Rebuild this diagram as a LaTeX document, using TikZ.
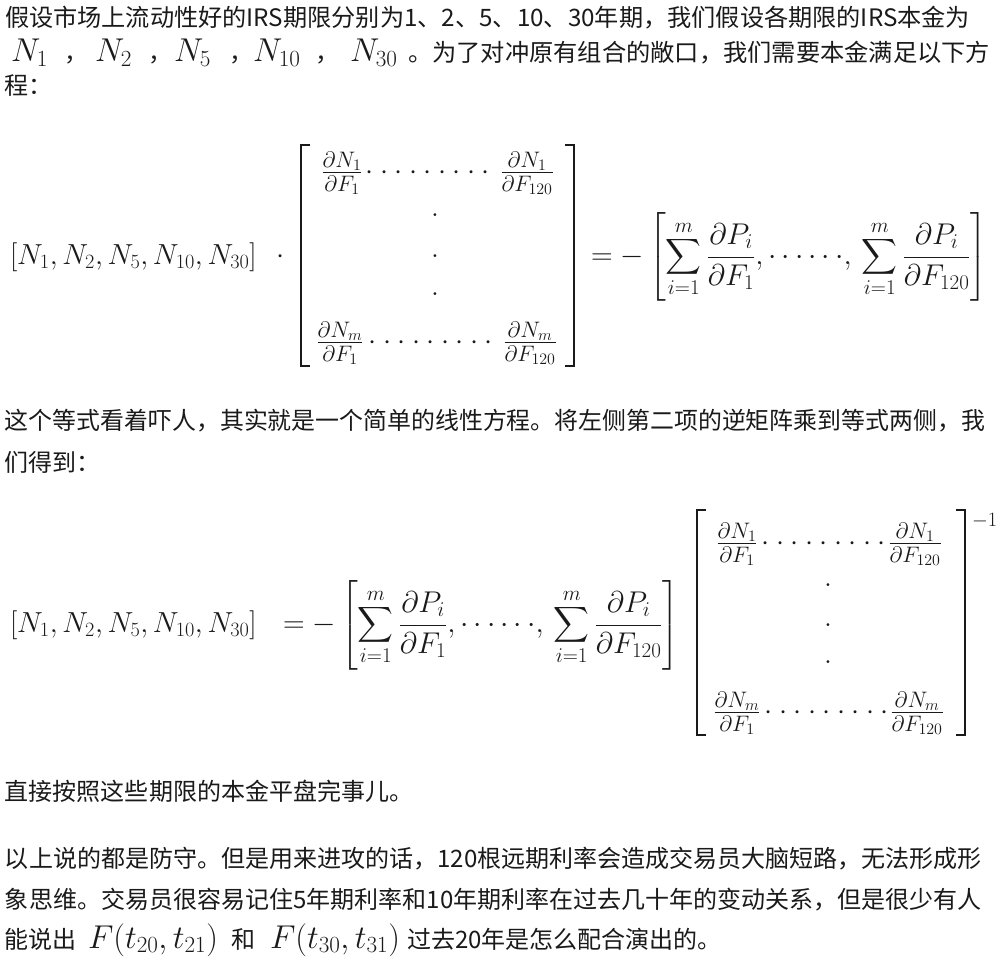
\RequirePackage{fix-cm}
\documentclass[tikz,border=0pt]{standalone}
\usepackage{amsmath}
\usepackage{fontspec}
\usepackage{graphicx}
\newfontfamily\cjk{Noto Sans CJK SC}
\definecolor{ink}{HTML}{1A1A1A}
\newcommand\mfs{\fontsize{29}{35}\selectfont}
\newcommand\ifs{\fontsize{33}{40}\selectfont}
\newcommand\rfs{\fontsize{30}{36}\selectfont}
\newcommand\efs{\fontsize{32}{38}\selectfont}
\newcommand\fitw[2]{\resizebox{#1}{\height}{#2}}
\newcommand\dd{\mathord{\cdotp}\mkern4mu}
\newcommand\ninedots{\dd\dd\dd\dd\dd\dd\dd\dd\mathord{\cdotp}}
\newcommand\sumrow{\displaystyle = -\left[\sum_{i=1}^m\frac{\partial P_i}{\partial F_1},\cdots\cdots\mkern-3mu,\mkern3mu\sum_{i=1}^m\frac{\partial P_i}{\partial F_{120}}\right]}
\begin{document}
\begin{tikzpicture}[x=1pt,y=-1pt,
  every node/.style={inner sep=0pt,outer sep=0pt,text=ink},
  txt/.style={anchor=base west,font=\cjk\fontsize{24}{30}\selectfont},
  mth/.style={font=\mfs},
  imth/.style={font=\ifs,anchor=base west},
  rmth/.style={font=\rfs,anchor=base west},
  ent/.style={font=\efs,anchor=base},
  brk/.style={draw=ink,line width=2.6pt}]
\fill[white] (0,0) rectangle (1000,965);
\useasboundingbox (0,0) rectangle (1000,965);
% paragraph 1
\node[txt] (l1) at (5,27) {\fitw{965pt}{假设市场上流动性好的IRS期限分别为1、2、5、10、30年期，我们假设各期限的IRS本金为}};
\node[imth] (n1) at (11,62) {$N_1$};
\node[txt] (c1) at (64,62) {，};
\node[imth] (n2) at (95,62) {$N_2$};
\node[txt] (c2) at (148,62) {，};
\node[imth] (n5) at (174,62) {$N_5$};
\node[txt] (c3) at (229,62) {，};
\node[imth] (n10) at (253,62) {$N_{10}$};
\node[txt] (c4) at (315,62) {，};
\node[imth] (n30) at (350,62) {$N_{30}$};
\node[txt] (l2) at (408,62) {\fitw{582pt}{。为了对冲原有组合的敞口，我们需要本金满足以下方}};
\node[txt] (l3) at (5,95) {程：};
% equation 1
\node[mth,anchor=base west] (v1) at (10,264.25) {$[N_1,N_2,N_5,N_{10},N_{30}]$};
\node[mth] (cd1) at (281,257) {$\cdot$};
\draw[brk] (310,145) -- (301,145) -- (301,366) -- (310,366);
\draw[brk] (565,145) -- (574,145) -- (574,366) -- (565,366);
\node[ent] (a11) at (342,180) {$\textstyle\frac{\partial N_1}{\partial F_1}$};
\node[mth,anchor=base] (d1) at (428,179.25) {$\ninedots$};
\node[ent] (a12) at (527,180) {$\textstyle\frac{\partial N_1}{\partial F_{120}}$};
\node[mth] (v11) at (435,215) {$.$};
\node[mth] (v12) at (435,256) {$.$};
\node[mth] (v13) at (435,294) {$.$};
\node[ent] (a21) at (340,350) {$\textstyle\frac{\partial N_m}{\partial F_1}$};
\node[mth,anchor=base] (d2) at (431,349.25) {$\ninedots$};
\node[ent] (a22) at (530,350) {$\textstyle\frac{\partial N_m}{\partial F_{120}}$};
\node[rmth] (r1) at (591,264.5) {$\sumrow$};
% paragraph 2
\node[txt] (l4) at (5,429) {\fitw{980pt}{这个等式看着吓人，其实就是一个简单的线性方程。将左侧第二项的逆矩阵乘到等式两侧，我}};
\node[txt] (l5) at (5,471) {们得到：};
% equation 2
\node[mth,anchor=base west] (v2) at (10,632.25) {$[N_1,N_2,N_5,N_{10},N_{30}]$};
\node[rmth] (r2) at (283,632.5) {$\sumrow$};
\draw[brk] (706,510) -- (697,510) -- (697,735) -- (706,735);
\draw[brk] (956,510) -- (965,510) -- (965,735) -- (956,735);
\node[mth,anchor=west] (inv) at (972,521) {$\scriptstyle -1$};
\node[ent] (b11) at (737,551) {$\textstyle\frac{\partial N_1}{\partial F_1}$};
\node[mth,anchor=base] (e1) at (824,550.25) {$\ninedots$};
\node[ent] (b12) at (915,551) {$\textstyle\frac{\partial N_1}{\partial F_{120}}$};
\node[mth] (w11) at (828,585) {$.$};
\node[mth] (w12) at (828,625) {$.$};
\node[mth] (w13) at (828,662) {$.$};
\node[ent] (b21) at (737,720) {$\textstyle\frac{\partial N_m}{\partial F_1}$};
\node[mth,anchor=base] (e2) at (827,719.25) {$\ninedots$};
\node[ent] (b22) at (917,720) {$\textstyle\frac{\partial N_m}{\partial F_{120}}$};
% paragraph 3
\node[txt] (l6) at (5,800) {直接按照这些期限的本金平盘完事儿。};
\node[txt] (l7) at (5,867) {\fitw{977pt}{以上说的都是防守。但是用来进攻的话，120根远期利率会造成交易员大脑短路，无法形成形}};
\node[txt] (l8) at (5,908) {\fitw{977pt}{象思维。交易员很容易记住5年期利率和10年期利率在过去几十年的变动关系，但是很少有人}};
\node[txt] (l9a) at (5,948) {能说出};
\node[imth] (f1) at (88,948) {$F(t_{20},t_{21})$};
\node[txt] (l9b) at (231,948) {和};
\node[imth] (f2) at (270,948) {$F(t_{30},t_{31})$};
\node[txt] (l9c) at (407,948) {过去20年是怎么配合演出的。};
\end{tikzpicture}
\end{document}
